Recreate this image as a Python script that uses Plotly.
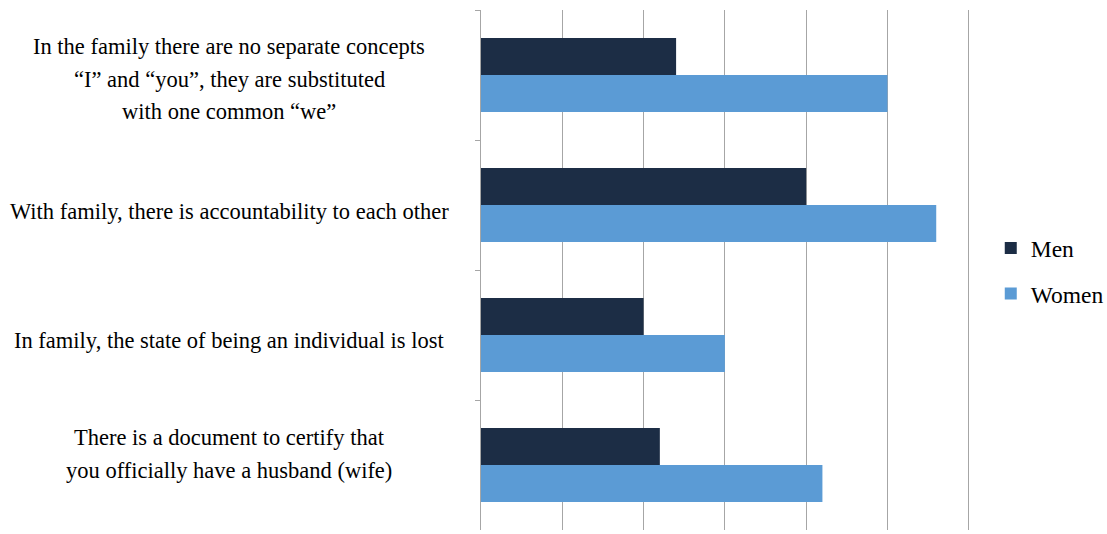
import plotly.graph_objects as go

categories = [
    ["In the family there are no separate concepts",
     "\u201cI\u201d and \u201cyou\u201d, they are substituted",
     "with one common \u201cwe\u201d"],
    ["With family, there is accountability to each other"],
    ["In family, the state of being an individual is lost"],
    ["There is a document to certify that",
     "you officially have a husband (wife)"],
]
cat_keys = ["c1", "c2", "c3", "c4"]
men = [12, 20, 10, 11]
women = [25, 28, 15, 21]

MEN_COLOR = "#1c2d45"
WOMEN_COLOR = "#5b9bd5"
FONT = "Liberation Serif, Times New Roman, serif"

fig = go.Figure()
fig.add_trace(go.Bar(y=cat_keys, x=men, orientation="h", name="Men",
                     marker=dict(color=MEN_COLOR, line=dict(width=0)),
                     legendgroup="m"))
fig.add_trace(go.Bar(y=cat_keys, x=women, orientation="h", name="Women",
                     marker=dict(color=WOMEN_COLOR, line=dict(width=0)),
                     legendgroup="w"))

annotations = []
line_gap = 32.2
label_shift = [-4, -6, -5, 11]
for key, lines, sh in zip(cat_keys, categories, label_shift):
    n = len(lines)
    for i, ln in enumerate(lines):
        off = (i - (n - 1) / 2) * line_gap
        annotations.append(dict(
            x=-0.5132, xref="paper", y=key, yref="y",
            text=ln, showarrow=False, xanchor="center", yanchor="middle",
            yshift=-off + sh,
            font=dict(family=FONT, size=22.5, color="#000000"),
        ))

fig.update_layout(
    width=1107, height=534,
    margin=dict(l=481, r=135, t=10, b=4, autoexpand=False),
    paper_bgcolor="white", plot_bgcolor="white",
    barmode="group", bargap=0.43, bargroupgap=0,
    showlegend=True,
    legend=dict(x=0.895, y=0.492, xref="container", yref="container",
                xanchor="left", yanchor="middle",
                traceorder="grouped", tracegroupgap=12,
                font=dict(family=FONT, size=23.5, color="#000000"),
                itemwidth=30, bgcolor="rgba(0,0,0,0)"),
    annotations=annotations,
    font=dict(family=FONT),
)
fig.update_xaxes(range=[0, 30.2], dtick=5, showticklabels=False, showgrid=True,
                 gridcolor="#a6a6a6", gridwidth=1, zeroline=False, showline=False)
fig.update_yaxes(autorange="reversed", showticklabels=False, showgrid=False,
                 showline=True, linecolor="#a6a6a6", linewidth=1,
                 ticks="outside", tickson="boundaries", ticklen=5,
                 tickcolor="#a6a6a6", zeroline=False)

fig.write_html("out.html")
